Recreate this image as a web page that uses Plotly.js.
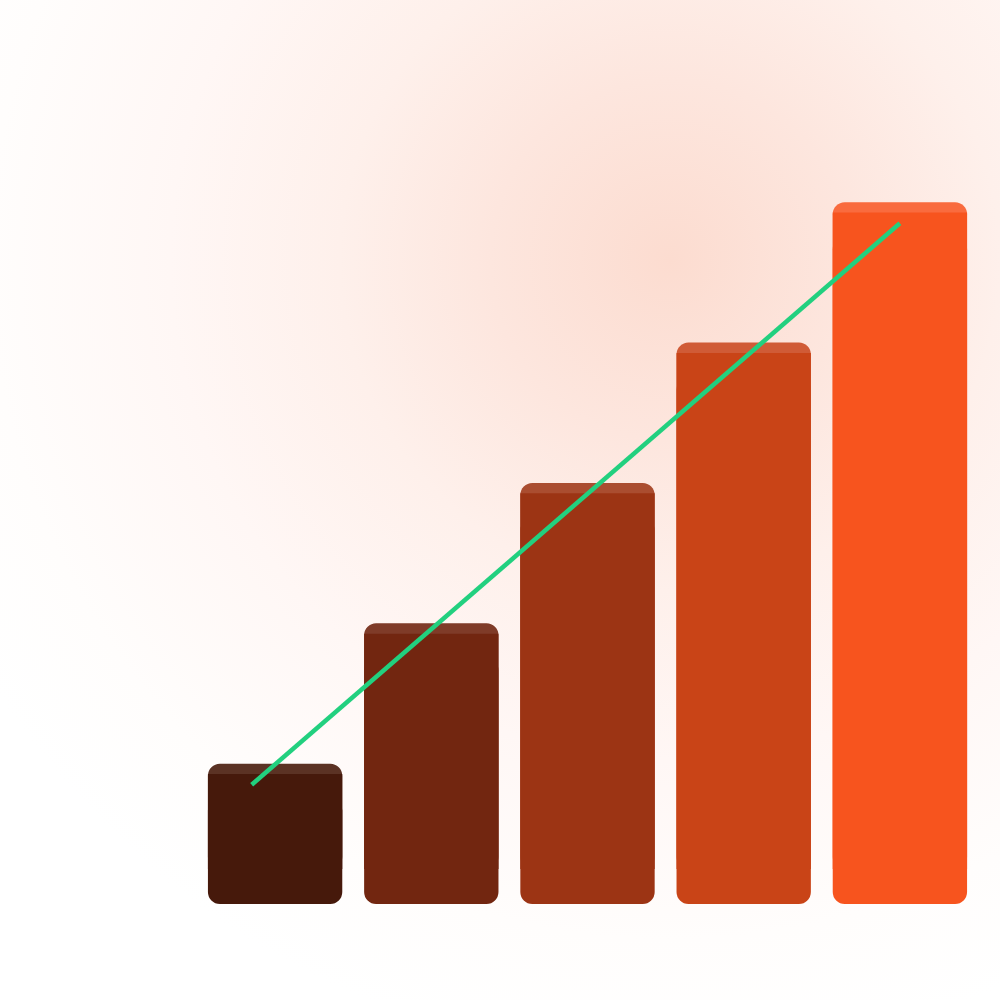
<!DOCTYPE html>
<html>
<head>
<meta charset="utf-8">
<script src="https://cdn.plot.ly/plotly-3.0.1.min.js"></script>
<style>
  html, body { margin: 0; padding: 0; width: 1000px; height: 1000px; overflow: hidden; }
  body {
    background: radial-gradient(circle at 670px 260px,
      #fcdcd0 0px, #fde6de 180px, #fef0eb 330px, #fff7f5 500px, #fffdfc 680px, #ffffff 800px);
  }
  #chart { width: 1000px; height: 1000px; }
</style>
</head>
<body>
<div id="chart"></div>
<script>
// ---- data ----
var categories = [0, 1, 2, 3, 4];
var values = [1, 2, 3, 4, 5];
var lineX = [-0.15, 4];
var lineY = [0.85, 4.85];

// ---- styles ----
var barColors = ['#46190b', '#722610', '#9c3414', '#c94417', '#f7541e'];
var stripColors = ['#5b3224', '#7f3b28', '#aa4d30', '#d05b36', '#f96b3e'];
var strip = 0.074;   // thickness of the lighter top band (axis units)
var foot = 0.25;     // overlap zone so the pieces never abut
var radius = 12;

var lowTop = values.map(function (v) { return v - foot; });
var lowLen = values.map(function (v) { return -(v - foot); });
var upLen = values.map(function (v) { return v - foot; });
var bodyLen = values.map(function (v) { return v - foot - strip; });
var upBase = values.map(function () { return foot; });

var traces = [
  // lower piece, rounded at the bottom (drawn downward to 0)
  { type: 'bar', x: categories, y: lowLen, base: lowTop,
    marker: { color: barColors, cornerradius: radius }, hoverinfo: 'skip' },
  // upper piece in the band colour, rounded at the top
  { type: 'bar', x: categories, y: upLen, base: upBase,
    marker: { color: stripColors, cornerradius: radius }, hoverinfo: 'skip' },
  // body over the upper piece, square, stops below the band
  { type: 'bar', x: categories, y: bodyLen, base: upBase,
    marker: { color: barColors, cornerradius: 0 }, hoverinfo: 'skip' },
  // trend line
  { type: 'scatter', mode: 'lines', x: lineX, y: lineY,
    line: { color: '#22d07f', width: 4.5 }, hoverinfo: 'skip' }
];

var layout = {
  width: 1000, height: 1000,
  margin: { l: 197, r: 22, t: 132, b: 96 },
  paper_bgcolor: 'rgba(0,0,0,0)',
  plot_bgcolor: 'rgba(0,0,0,0)',
  barmode: 'overlay',
  bargap: 0.14,
  showlegend: false,
  xaxis: { range: [-0.5, 4.5], visible: false, fixedrange: true },
  yaxis: { range: [0, 5.5], visible: false, fixedrange: true }
};

Plotly.newPlot('chart', traces, layout, { displayModeBar: false, staticPlot: true });
</script>
</body>
</html>
